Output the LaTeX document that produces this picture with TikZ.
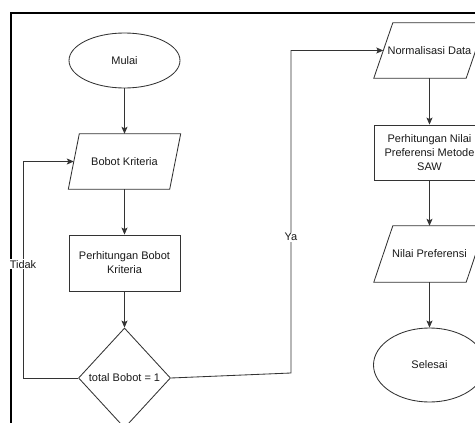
\documentclass[tikz,border=0pt]{standalone}
\usepackage{fontspec}
\setmainfont{Liberation Sans}
\usetikzlibrary{shapes.geometric,arrows.meta}
\begin{document}
\begin{tikzpicture}[x=1pt,y=-1pt,
  every node/.style={font=\fontsize{11}{14}\selectfont, text=black!90},
  ln/.style={draw=black!80, line width=0.85pt},
  arr/.style={ln, -{Stealth[length=7pt,width=6pt,inset=1.5pt]}},
  term/.style={ellipse, ln, inner sep=0pt},
  proc/.style={rectangle, ln, inner sep=0pt, minimum width=111pt, align=center},
  io/.style={rectangle, draw=none, inner sep=0pt, align=center},
  dec/.style={diamond, ln, inner sep=0pt, minimum width=92pt, minimum height=100pt},
  lbl/.style={fill=white, inner sep=1pt}
]
\useasboundingbox (0,0) rectangle (475,423);
\clip (0,0) rectangle (475,423);
% frame
\draw[line width=2pt, black] (10.7,13.3) rectangle (540,540);

% left column
\node[term, minimum width=111pt, minimum height=55pt] (mulai) at (124.5,60.5) {Mulai};
\node[io, minimum width=101pt, minimum height=55pt] (bobot) at (124.5,161.5) {Bobot Kriteria};
\draw[ln] ([xshift=5.5pt]bobot.north west) -- ([xshift=5.5pt]bobot.north east)
  -- ([xshift=-5.5pt]bobot.south east) -- ([xshift=-5.5pt]bobot.south west) -- cycle;
\node[proc, minimum height=56pt] (pbb) at (124.5,263) {Perhitungan Bobot\\Kriteria};
\node[dec] (dia) at (124.5,378) {total Bobot = 1};

% right column
\node[io, minimum width=92pt, minimum height=55pt] (norm) at (429.5,50.5) {Normalisasi Data};
\draw[ln] ([xshift=9.5pt]norm.north west) -- ([xshift=9.5pt]norm.north east)
  -- ([xshift=-9.5pt]norm.south east) -- ([xshift=-9.5pt]norm.south west) -- cycle;
\node[proc, minimum height=55pt] (pnm) at (429.5,152.5) {Perhitungan Nilai\\Preferensi Metode\\SAW};
\node[io, minimum width=92pt, minimum height=56pt] (nilai) at (429.5,254) {Nilai Preferensi};
\draw[ln] ([xshift=9.5pt]nilai.north west) -- ([xshift=9.5pt]nilai.north east)
  -- ([xshift=-9.5pt]nilai.south east) -- ([xshift=-9.5pt]nilai.south west) -- cycle;
\node[term, minimum width=112pt, minimum height=74pt] (selesai) at (429.5,365) {Selesai};

% connectors
\draw[arr] (mulai) -- (bobot);
\draw[arr] (bobot) -- (pbb);
\draw[arr] (pbb) -- (dia);
\draw[arr] (norm) -- (pnm);
\draw[arr] (pnm) -- (nilai);
\draw[arr] (nilai) -- (selesai);

\coordinate (tk) at (23,378);
\draw[arr] (dia.west) -- (tk) |- node[lbl, pos=0.263] (tidak) {Tidak} (bobot.west);
\coordinate (ya1) at (291,373);
\draw[arr] (dia.east) -- (ya1) |- node[lbl, pos=0.211] (ya) {Ya} (norm.west);
\end{tikzpicture}
\end{document}
